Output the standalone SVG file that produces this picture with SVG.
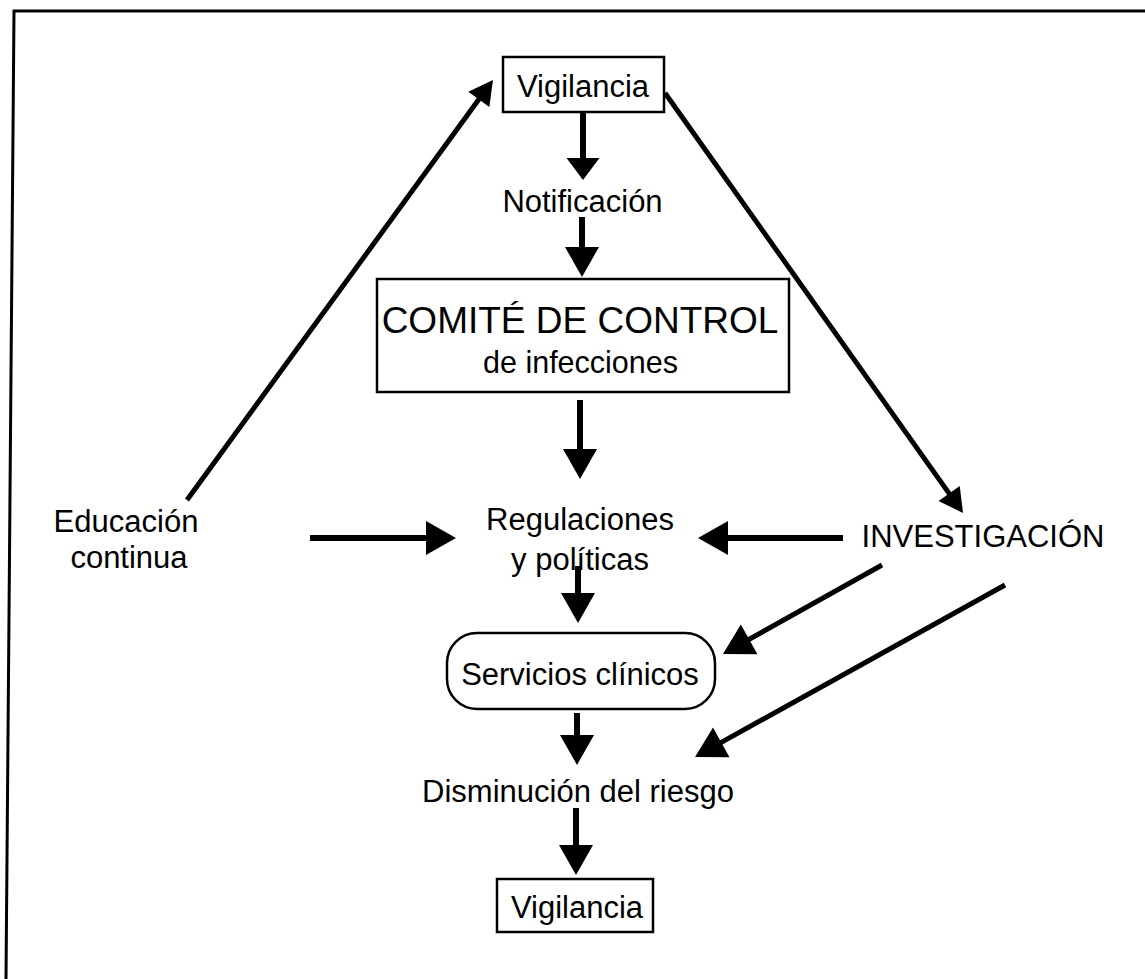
<svg xmlns="http://www.w3.org/2000/svg" width="1145" height="979" viewBox="0 0 1145 979">
  <style>
    .lbl { font-family: "Liberation Sans", Arial, Helvetica, sans-serif; font-size: 31px; fill: #000; text-anchor: middle; }
    .box { fill: #fff; stroke: #000; stroke-width: 2.5; }
    .shaft { stroke: #000; stroke-width: 6; fill: none; }
    .diag { stroke: #000; stroke-width: 5; fill: none; }
    .frame { stroke: #000; stroke-width: 3; fill: none; }
  </style>
  <defs>
    <marker id="head" markerUnits="userSpaceOnUse" markerWidth="32" markerHeight="36" refX="2" refY="17" orient="auto" overflow="visible">
      <path d="M0,0 L30,17 L0,34 z" fill="#000"/>
    </marker>
    <marker id="headShort" markerUnits="userSpaceOnUse" markerWidth="24" markerHeight="35" refX="2" refY="16.5" orient="auto" overflow="visible">
      <path d="M0,0 L22,16.5 L0,33 z" fill="#000"/>
    </marker>
    <marker id="headSmall" markerUnits="userSpaceOnUse" markerWidth="26" markerHeight="28" refX="2" refY="13" orient="auto" overflow="visible">
      <path d="M0,0 L24,13 L0,26 z" fill="#000"/>
    </marker>
  </defs>

  <rect width="1145" height="979" fill="#fff"/>

  <!-- outer border (top and left edges only) -->
  <path class="frame" d="M6,979 L14,11 L1145,11"/>

  <!-- connectors -->
  <g id="connectors">
    <line class="shaft" x1="583" y1="112" x2="583" y2="160" marker-end="url(#headShort)"/>
    <line class="shaft" x1="582" y1="217" x2="582" y2="249" marker-end="url(#head)"/>
    <line class="shaft" x1="580" y1="400" x2="580" y2="451" marker-end="url(#head)"/>
    <line class="shaft" x1="578" y1="566" x2="578" y2="595" marker-end="url(#head)"/>
    <line class="shaft" x1="577" y1="713" x2="577" y2="737" marker-end="url(#head)"/>
    <line class="shaft" x1="576" y1="808" x2="576" y2="847" marker-end="url(#head)"/>
    <line class="shaft" x1="310" y1="538" x2="428" y2="538" marker-end="url(#head)"/>
    <line class="shaft" x1="843" y1="538" x2="726" y2="538" marker-end="url(#head)"/>
    <line class="diag" x1="187" y1="500" x2="480" y2="97.8" marker-end="url(#headSmall)"/>
    <line class="diag" x1="665" y1="93" x2="950.3" y2="495.1" marker-end="url(#headSmall)"/>
    <line class="diag" x1="882" y1="565" x2="747.4" y2="640.3" marker-end="url(#head)"/>
    <line class="diag" x1="1005" y1="585" x2="719.5" y2="743.4" marker-end="url(#head)"/>
  </g>

  <g id="vigilancia-top">
    <rect class="box" x="503" y="57" width="161" height="55"/>
    <text class="lbl" x="583" y="97">Vigilancia</text>
  </g>

  <g id="notificacion">
    <text class="lbl" x="582.5" y="212">Notificación</text>
  </g>

  <g id="comite">
    <rect class="box" x="377" y="279" width="412" height="113"/>
    <text class="lbl" x="580" y="333" style="font-size:37px">COMITÉ DE CONTROL</text>
    <text class="lbl" x="580.5" y="373" style="font-size:30.5px">de infecciones</text>
  </g>

  <g id="regulaciones">
    <text class="lbl" x="580" y="530">Regulaciones</text>
    <text class="lbl" x="580" y="570">y políticas</text>
  </g>

  <g id="educacion">
    <text class="lbl" x="126" y="532">Educación</text>
    <text class="lbl" x="129" y="568">continua</text>
  </g>

  <g id="investigacion">
    <text class="lbl" x="983" y="547">INVESTIGACIÓN</text>
  </g>

  <g id="servicios">
    <rect class="box" x="447" y="633" width="268" height="76" rx="30" ry="30"/>
    <text class="lbl" x="580" y="685">Servicios clínicos</text>
  </g>

  <g id="disminucion">
    <text class="lbl" x="578" y="802">Disminución del riesgo</text>
  </g>

  <g id="vigilancia-bottom">
    <rect class="box" x="497" y="879" width="156" height="53"/>
    <text class="lbl" x="577" y="918">Vigilancia</text>
  </g>
</svg>
